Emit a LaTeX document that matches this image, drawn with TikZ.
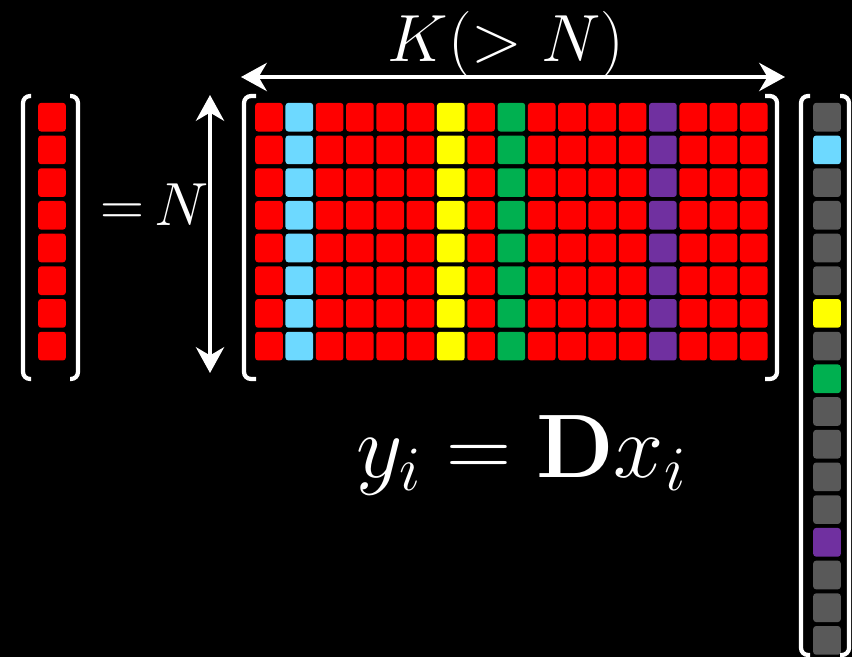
\documentclass[tikz,border=0pt]{standalone}
\usepackage{fix-cm}
\usepackage{amsmath}
\usetikzlibrary{arrows.meta}

\definecolor{cellred}{HTML}{FF0000}
\definecolor{cellblue}{HTML}{6DD9FF}
\definecolor{cellyellow}{HTML}{FFFF00}
\definecolor{cellgreen}{HTML}{00B050}
\definecolor{cellpurple}{HTML}{7030A0}
\definecolor{cellgray}{HTML}{595959}

\begin{document}
\begin{tikzpicture}[x=0.03cm, y=-0.03cm,
  >={Stealth[length=22pt, width=24pt, inset=7pt]},
  cell/.style={rectangle, rounded corners=2.5pt, inner sep=0pt, minimum width=0.83cm, minimum height=0.86cm},
  brack/.style={draw=white, line width=3.6pt, rounded corners=6pt},
  dim/.style={<->, draw=white, line width=3.4pt},
  lbl/.style={text=white, inner sep=0pt, font=\fontsize{57}{60}\selectfont}]
\fill[black, use as bounding box] (0,0) rectangle (852,657);
\foreach \r in {1,...,8}
  \node[cell, fill=cellred] (y\r) at (52,{117.2+32.7*(\r-1)}) {};
\foreach \c/\col/\vcol in {1/cellred/cellgray, 2/cellblue/cellblue, 3/cellred/cellgray, 4/cellred/cellgray,
    5/cellred/cellgray, 6/cellred/cellgray, 7/cellyellow/cellyellow, 8/cellred/cellgray, 9/cellgreen/cellgreen,
    10/cellred/cellgray, 11/cellred/cellgray, 12/cellred/cellgray, 13/cellred/cellgray, 14/cellpurple/cellpurple,
    15/cellred/cellgray, 16/cellred/cellgray, 17/cellred/cellgray} {
  \foreach \r in {1,...,8}
    \node[cell, fill=\col] (D\r-\c) at ({269+30.3*(\c-1)},{117.2+32.7*(\r-1)}) {};
  \node[cell, fill=\vcol] (x\c) at (827,{117.2+32.7*(\c-1)}) {};
}
\draw[brack] (31,96) -- (23,96) -- (23,379) -- (31,379);
\draw[brack] (70,96) -- (78,96) -- (78,379) -- (70,379);
\draw[brack] (256,96) -- (244,96) -- (244,379) -- (256,379);
\draw[brack] (765,96) -- (777,96) -- (777,379) -- (765,379);
\draw[brack] (810,96) -- (801,96) -- (801,655) -- (810,655);
\draw[brack] (840,96) -- (849,96) -- (849,655) -- (840,655);
\coordinate (ntop) at (210,95);
\coordinate (nbot) at (210,373);
\coordinate (kleft) at (241,77);
\coordinate (kright) at (785,77);
\draw[dim] (ntop) -- (nbot);
\draw[dim] (kleft) -- (kright);
\node[lbl, anchor=base, font=\fontsize{52}{56}\selectfont] (nlabel) at (155,226) {${=}\mkern3mu N$};
\node[lbl, anchor=base] (klabel) at (506,62) {$K(>N)$};
\node[lbl, anchor=base, font=\fontsize{77}{80}\selectfont] (eq) at (521,477) {$y_i=\mathbf{D}x_i$};
\end{tikzpicture}
\end{document}
